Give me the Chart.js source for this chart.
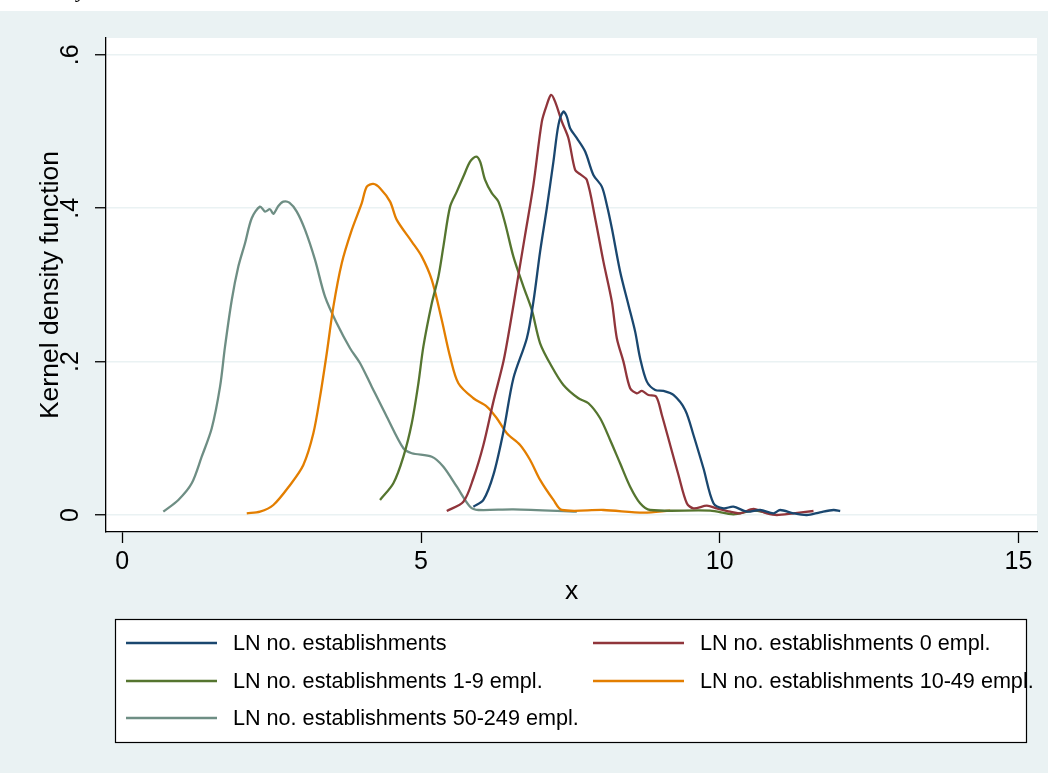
<!DOCTYPE html>
<html><head><meta charset="utf-8">
<script src="https://cdn.jsdelivr.net/npm/chart.js@4.4.0/dist/chart.umd.min.js"></script>
<style>html,body{margin:0;padding:0;background:#EAF2F3;}#wrap{width:1048px;height:773px;position:relative;}</style>
</head><body><div id="wrap"><canvas id="c" width="1048" height="773"></canvas></div>
<script>
// ---- data ----
const seriesLabels = [
  'LN no. establishments',
  'LN no. establishments 0 empl.',
  'LN no. establishments 1-9 empl.',
  'LN no. establishments 10-49 empl.',
  'LN no. establishments 50-249 empl.'
];
const xTicks = [0, 5, 10, 15];
const yTicks = [0, 0.2, 0.4, 0.6];
const yTickLabels = ['0', '.2', '.4', '.6'];
const xTitle = 'x';
const yTitle = 'Kernel density function';

const xAll = [5.876,6.044,6.211,6.379,6.546,6.771,6.881,6.993,7.105,7.216,7.300,7.383,7.440,7.495,7.608,7.747,7.885,8.026,8.110,8.194,8.333,8.472,8.584,8.667,8.780,8.919,9.058,9.225,9.421,9.560,9.727,9.895,10.062,10.229,10.454,10.677,10.899,11.011,11.234,11.458,11.678,11.904,12.016];
const yAll = [0.0108,0.0196,0.0522,0.1086,0.1783,0.2305,0.2782,0.3434,0.4000,0.4608,0.5087,0.5260,0.5195,0.5044,0.4913,0.4739,0.4435,0.4282,0.4043,0.3739,0.3173,0.2739,0.2391,0.2044,0.1739,0.1630,0.1617,0.1565,0.1370,0.1043,0.0609,0.0153,0.0087,0.0108,0.0043,0.0065,0.0022,0.0065,0.0022,0.0000,0.0035,0.0065,0.0052];

const x0 = [5.431,5.709,5.876,6.044,6.211,6.379,6.491,6.603,6.742,6.881,7.022,7.105,7.177,7.244,7.357,7.467,7.579,7.663,7.775,7.914,8.053,8.194,8.277,8.388,8.500,8.612,8.696,8.806,8.935,9.031,9.170,9.309,9.449,9.560,9.784,9.951,10.174,10.341,10.564,10.788,10.956,11.234,11.569];
const y0 = [0.0052,0.0173,0.0479,0.0913,0.1478,0.2000,0.2478,0.3000,0.3652,0.4304,0.5130,0.5348,0.5478,0.5391,0.5130,0.4913,0.4500,0.4444,0.4369,0.3870,0.3304,0.2782,0.2305,0.2000,0.1653,0.1587,0.1617,0.1565,0.1543,0.1304,0.0913,0.0522,0.0153,0.0087,0.0121,0.0087,0.0043,0.0022,0.0078,0.0022,0.0000,0.0022,0.0052];

const x1to9 = [4.314,4.537,4.705,4.845,4.956,5.039,5.180,5.291,5.374,5.486,5.599,5.709,5.821,5.922,5.989,6.072,6.185,6.295,6.407,6.546,6.714,6.854,6.993,7.189,7.383,7.634,7.802,7.998,8.165,8.332,8.500,8.667,8.835,9.840,10.229,10.564,10.788];
const y1to9 = [0.0196,0.0413,0.0760,0.1196,0.1718,0.2195,0.2761,0.3108,0.3499,0.4021,0.4217,0.4413,0.4608,0.4673,0.4608,0.4369,0.4196,0.4086,0.3805,0.3369,0.2978,0.2674,0.2239,0.1934,0.1696,0.1522,0.1457,0.1261,0.0978,0.0674,0.0369,0.0153,0.0065,0.0056,0.0009,0.0056,0.0030];

const x10to49 = [2.083,2.305,2.528,2.808,3.030,3.198,3.310,3.422,3.533,3.673,3.841,4.008,4.092,4.202,4.314,4.482,4.594,4.845,5.013,5.180,5.347,5.486,5.625,5.876,6.101,6.268,6.436,6.658,6.826,6.993,7.216,7.357,8.053,8.723,9.170];
const y10to49 = [0.0022,0.0043,0.0130,0.0391,0.0652,0.1066,0.1543,0.2109,0.2717,0.3283,0.3717,0.4066,0.4282,0.4317,0.4261,0.4086,0.3848,0.3565,0.3369,0.3065,0.2543,0.2065,0.1718,0.1522,0.1413,0.1261,0.1066,0.0913,0.0717,0.0457,0.0196,0.0065,0.0065,0.0030,0.0056];

const x50to249 = [0.686,0.938,1.162,1.329,1.497,1.636,1.719,1.832,1.942,2.054,2.166,2.305,2.389,2.472,2.528,2.612,2.695,2.796,2.920,3.059,3.226,3.393,3.590,3.812,3.980,4.175,4.427,4.705,4.845,5.180,5.374,5.599,5.821,5.960,6.546,7.608];
const y50to249 = [0.0043,0.0196,0.0413,0.0760,0.1131,0.1673,0.2195,0.2804,0.3239,0.3544,0.3870,0.4021,0.3956,0.3987,0.3926,0.4030,0.4086,0.4073,0.3956,0.3717,0.3326,0.2847,0.2500,0.2174,0.1979,0.1673,0.1282,0.0870,0.0805,0.0760,0.0630,0.0369,0.0108,0.0065,0.0074,0.0043];

const seriesX = [xAll, x0, x1to9, x10to49, x50to249];
const seriesY = [yAll, y0, y1to9, y10to49, y50to249];
const seriesColors = ['#1A476F', '#90353B', '#55752F', '#E37E00', '#6E8E84'];

// ---- styles ----
const BG = '#EAF2F3';
const FONT = '"Liberation Sans", Arial, sans-serif';
const TICK_PX = 25, TITLE_PX = 26.5, LEG_PX = 21.6;

const datasets = seriesLabels.map((lab, i) => ({
  label: lab,
  data: seriesX[i].map((x, j) => ({x: x, y: seriesY[i][j]})),
  borderColor: seriesColors[i],
  backgroundColor: seriesColors[i],
  borderWidth: 2.3,
  pointRadius: 0,
  tension: 0.3,
  fill: false,
  showLine: true
}));

const decor = {
  id: 'decor',
  beforeDraw(chart) {
    const ctx = chart.ctx, a = chart.chartArea;
    ctx.save();
    ctx.fillStyle = BG; ctx.fillRect(0, 0, chart.width, chart.height);
    ctx.fillStyle = '#fff'; ctx.fillRect(0, 0, chart.width, 11);
    ctx.fillStyle = '#000';
    ctx.font = 'italic 22px "Liberation Serif", serif';
    ctx.textBaseline = 'alphabetic';
    ctx.fillText('y', 77, -3);
    ctx.fillStyle = '#fff'; ctx.fillRect(a.left, a.top, a.right - a.left, a.bottom - a.top);
    ctx.restore();
  },
  afterDraw(chart) {
    const ctx = chart.ctx, a = chart.chartArea, ys = chart.scales.y;
    ctx.save();
    ctx.fillStyle = '#000';
    // y tick labels (rotated)
    ctx.font = TICK_PX + 'px ' + FONT;
    ctx.textAlign = 'center'; ctx.textBaseline = 'middle';
    yTicks.forEach((v, i) => {
      const py = ys.getPixelForValue(v);
      ctx.save(); ctx.translate(71, py); ctx.rotate(-Math.PI / 2);
      ctx.fillText(yTickLabels[i], 0, 0); ctx.restore();
    });
    // axis titles
    ctx.font = TITLE_PX + 'px ' + FONT;
    ctx.save(); ctx.translate(51, (a.top + a.bottom) / 2); ctx.rotate(-Math.PI / 2);
    ctx.fillText(yTitle, 0, 0); ctx.restore();
    ctx.fillText(xTitle, (a.left + a.right) / 2, 592);
    // legend
    const bx = 115, by = 619, bw = 911, bh = 123;
    ctx.fillStyle = '#fff'; ctx.fillRect(bx, by, bw, bh);
    ctx.strokeStyle = '#000'; ctx.lineWidth = 1.2; ctx.strokeRect(bx + 0.5, by + 0.5, bw, bh);
    const colX = [126, 593], rowY = [643, 681, 718];
    ctx.font = LEG_PX + 'px ' + FONT;
    ctx.textAlign = 'left'; ctx.textBaseline = 'middle';
    chart.data.datasets.forEach((d, i) => {
      const cx = colX[i % 2], cy = rowY[Math.floor(i / 2)];
      ctx.strokeStyle = d.borderColor; ctx.lineWidth = 2.3;
      ctx.beginPath(); ctx.moveTo(cx, cy); ctx.lineTo(cx + 91, cy); ctx.stroke();
      ctx.fillStyle = '#000';
      ctx.fillText(d.label, cx + 107, cy + 1);
    });
    ctx.restore();
  }
};

new Chart(document.getElementById('c'), {
  type: 'scatter',
  data: { datasets },
  plugins: [decor],
  options: {
    responsive: false,
    devicePixelRatio: 1,
    animation: false,
    layout: { padding: { top: 38, right: 11, left: 0, bottom: 0 } },
    plugins: { legend: { display: false }, tooltip: { enabled: false } },
    scales: {
      x: {
        type: 'linear', min: -0.273, max: 15.31,
        afterBuildTicks: s => { s.ticks = xTicks.map(v => ({value: v})); },
        afterFit: s => { s.height = 241; },
        grid: { drawOnChartArea: false, drawTicks: true, tickLength: 11, tickColor: '#000', tickWidth: 1.3 },
        border: { display: true, color: '#000', width: 1.3 },
        ticks: { color: '#000', font: { family: FONT, size: TICK_PX }, padding: 4, maxRotation: 0, minRotation: 0, callback: v => String(v) }
      },
      y: {
        type: 'linear', min: -0.0222, max: 0.622,
        afterBuildTicks: s => { s.ticks = yTicks.map(v => ({value: v})); },
        afterFit: s => { s.width = 106; },
        grid: { color: BG, lineWidth: 1.5, drawTicks: true, tickLength: 11, tickColor: '#000', tickWidth: 1.3 },
        border: { display: true, color: '#000', width: 1.3 },
        ticks: { display: false }
      }
    }
  }
});
</script></body></html>
